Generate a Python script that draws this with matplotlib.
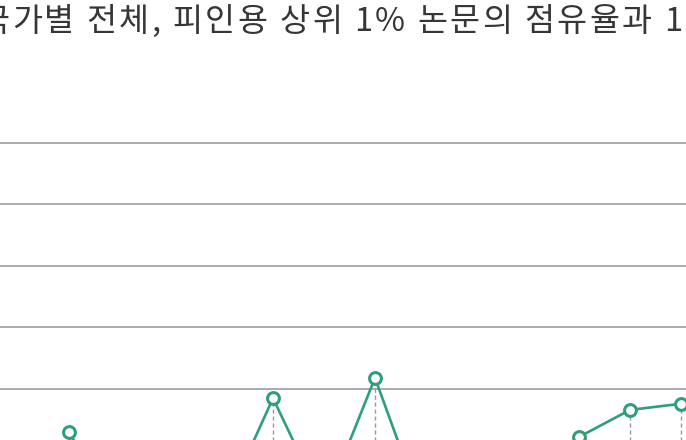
import matplotlib.pyplot as plt
from matplotlib.font_manager import FontProperties

plt.rcParams['font.family'] = ['Noto Sans CJK KR', 'DejaVu Sans']

title = "국가별 전체, 피인용 상위 1% 논문의 점유율과 1% 논문 비율"

# category positions (x labels are cut off in the source crop)
points = list(range(13))
# share values, in grid units (gridlines at 3..7)
share = [2.30, 0.87, 0.55, 1.02, 2.85, 1.11, 3.18, 0.90, 1.03, 1.20, 2.22, 2.66, 2.76]
grid_levels = [3, 4, 5, 6, 7]

line_color = "#2f9e7c"
grid_color = "#ababab"

fig = plt.figure(figsize=(6.86, 4.40), dpi=100)
ax = fig.add_axes([0, 0, 1, 1])

px_unit = 61.5
ax.set_xlim(-69 / 51, (686 - 69) / 51)
ax.set_ylim(7 - 297 / px_unit, 7 + 143 / px_unit)

for g in grid_levels:
    ax.axhline(g, color=grid_color, lw=1.4, zorder=1)

ax.vlines(points, 0, share, colors="#9a9a9a", linestyles=(0, (3, 2)), lw=1.0, zorder=2)
ax.plot(points, share, color=line_color, lw=1.9, marker="o", ms=8.5,
        mfc="white", mec=line_color, mew=2.2, zorder=3)

ax.axis("off")

# title drawn char by char to get the letter spacing of the original
fsize = 23.5
track = 2.45
fp = FontProperties(family="Noto Sans CJK KR", size=fsize)
renderer = fig.canvas.get_renderer()


def width_px(s):
    if not s:
        return 0.0
    w, _, _ = renderer.get_text_width_height_descent(s.replace(" ", "\u00a0"), fp, ismath=False)
    return w


x0 = 12 - (width_px(title[0]) + track)
for i, ch in enumerate(title):
    if ch == " ":
        continue
    x = x0 + width_px(title[:i]) + i * track
    fig.text(x / 686, 1 - 22 / 440, ch, ha="left", va="center",
             fontsize=fsize, color="#363636", family=["Noto Sans CJK KR", "DejaVu Sans"])

fig.savefig("out.png", dpi=100)
